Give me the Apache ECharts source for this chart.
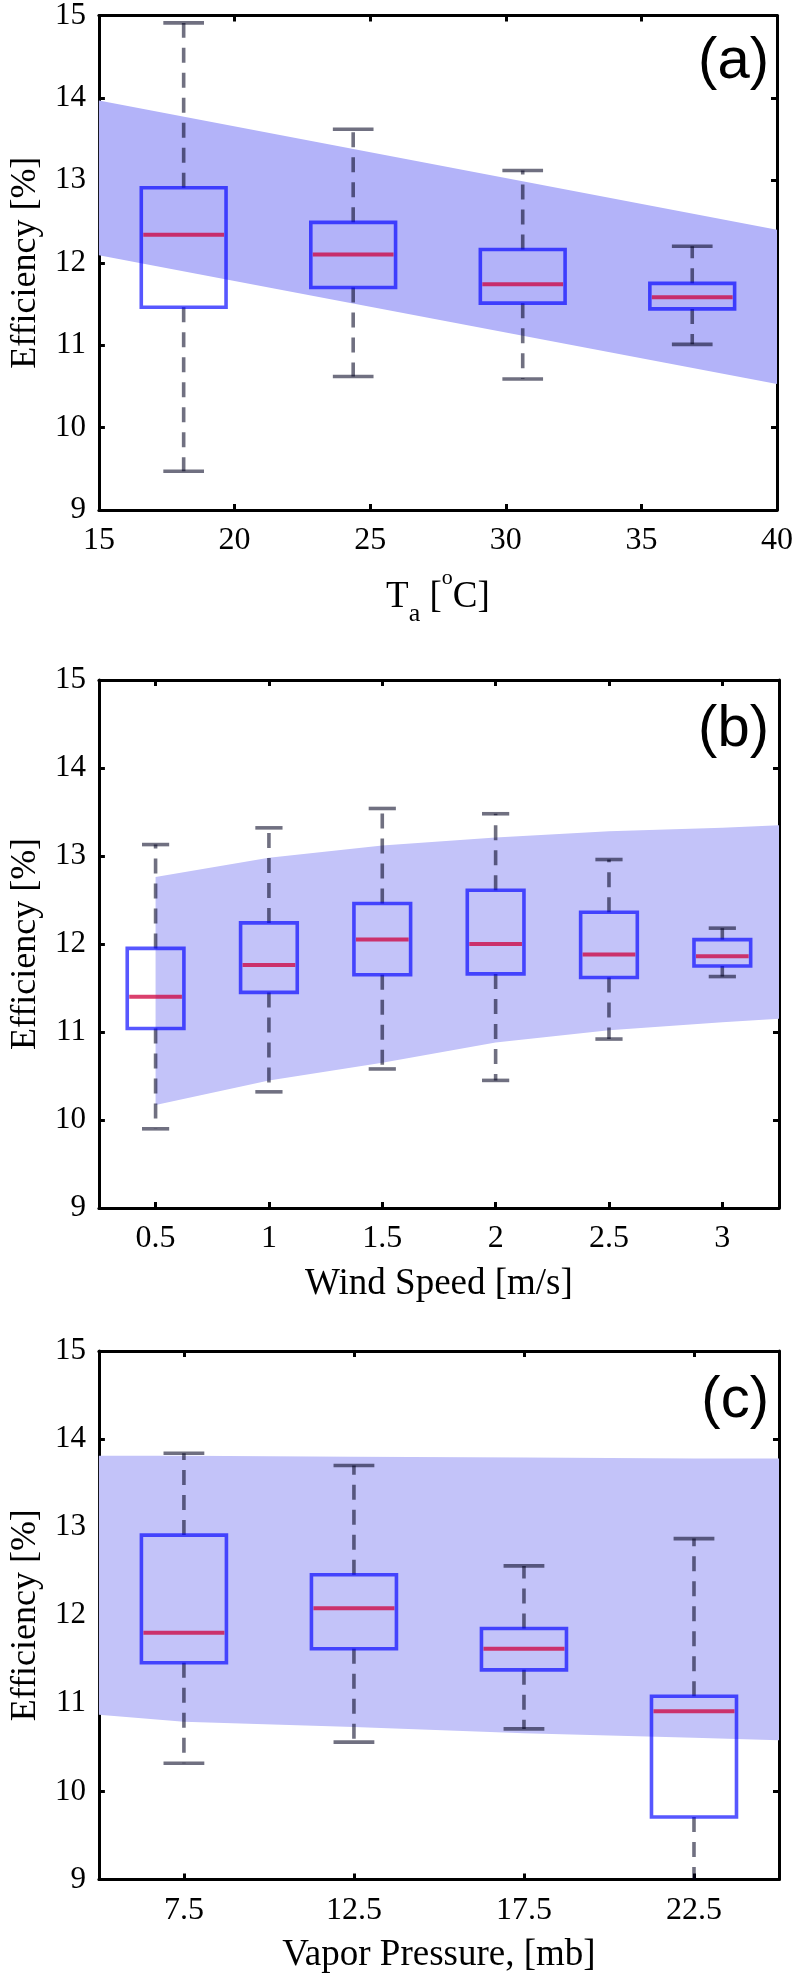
<!DOCTYPE html>
<html>
<head>
<meta charset="utf-8">
<script src="https://cdn.jsdelivr.net/npm/echarts@6/dist/echarts.min.js"></script>
<style>
html,body{margin:0;padding:0;background:#fff;}
#chart{width:796px;height:1975px;}
</style>
</head>
<body>
<div id="chart"></div>
<script>
// ---------- Panel (a): ambient temperature ----------
const taPositions = [18.125, 24.375, 30.625, 36.875];
const taMin    = [9.47, 10.62, 10.59, 11.01];
const taQ1     = [11.46, 11.70, 11.51, 11.44];
const taMedian = [12.34, 12.10, 11.74, 11.58];
const taQ3     = [12.91, 12.49, 12.16, 11.75];
const taMax    = [14.91, 13.62, 13.12, 12.20];
const taBandX     = [15, 40];
const taBandLower = [12.09, 10.53];
const taBandUpper = [13.97, 12.40];
const taTicks = [15, 20, 25, 30, 35, 40];

// ---------- Panel (b): wind speed ----------
const wsPositions = [0.5, 1, 1.5, 2, 2.5, 3];
const wsMin    = [9.90, 10.32, 10.58, 10.45, 10.92, 11.63];
const wsQ1     = [11.04, 11.45, 11.65, 11.66, 11.62, 11.75];
const wsMedian = [11.40, 11.76, 12.05, 12.00, 11.88, 11.86];
const wsQ3     = [11.95, 12.24, 12.46, 12.61, 12.36, 12.05];
const wsMax    = [13.13, 13.32, 13.54, 13.48, 12.96, 12.18];
const wsBandX     = [0.5, 1, 1.5, 2, 2.5, 3, 3.25];
const wsBandLower = [10.17, 10.45, 10.65, 10.88, 11.02, 11.11, 11.15];
const wsBandUpper = [12.76, 12.98, 13.12, 13.21, 13.28, 13.32, 13.35];
const wsTicks = [0.5, 1, 1.5, 2, 2.5, 3];

// ---------- Panel (c): vapor pressure ----------
const vpPositions = [7.5, 12.5, 17.5, 22.5];
const vpMin    = [10.32, 10.56, 10.71, 8.6];
const vpQ1     = [11.46, 11.62, 11.38, 9.71];
const vpMedian = [11.80, 12.08, 11.62, 10.91];
const vpQ3     = [12.91, 12.46, 11.85, 11.08];
const vpMax    = [13.84, 13.70, 12.56, 12.87];
const vpBandX     = [5, 7.5, 12.5, 17.5, 22.5, 25];
const vpBandLower = [10.87, 10.79, 10.73, 10.66, 10.61, 10.58];
const vpBandUpper = [13.81, 13.81, 13.80, 13.79, 13.78, 13.78];
const vpTicks = [7.5, 12.5, 17.5, 22.5];

// ---------- styling ----------
const SERIF = '"Liberation Serif", "Times New Roman", serif';
const SANS = '"Liberation Sans", Arial, sans-serif';
const BOX_COLOR = 'rgba(0,0,255,0.66)';
const WHISKER_COLOR = 'rgba(0,0,30,0.56)';
const MEDIAN_COLOR = 'rgba(205,0,60,0.75)';
const Y_MIN = 9, Y_MAX = 15;

const panels = [
  {pos: taPositions, mn: taMin, q1: taQ1, md: taMedian, q3: taQ3, mx: taMax,
   bx: taBandX, bl: taBandLower, bu: taBandUpper, ticks: taTicks,
   xmin: 15, xmax: 40, boxW: 3.125, bandColor: '#b3b3f9',
   top: 12, height: 498, label: '(a)',
   xname: '{m|T}{sub|a}{m| [}{sup|o}{m|C]}'},
  {pos: wsPositions, mn: wsMin, q1: wsQ1, md: wsMedian, q3: wsQ3, mx: wsMax,
   bx: wsBandX, bl: wsBandLower, bu: wsBandUpper, ticks: wsTicks,
   xmin: 0.25, xmax: 3.25, boxW: 0.25, bandColor: '#c3c3f9',
   top: 680, height: 528, label: '(b)',
   xname: '{m|Wind Speed [m/s]}'},
  {pos: vpPositions, mn: vpMin, q1: vpQ1, md: vpMedian, q3: vpQ3, mx: vpMax,
   bx: vpBandX, bl: vpBandLower, bu: vpBandUpper, ticks: vpTicks,
   xmin: 5, xmax: 25, boxW: 2.5, bandColor: '#c3c3f9',
   top: 1351, height: 529, label: '(c)',
   xname: '{m|Vapor Pressure, [mb]}'}
];

function makeBoxRender(boxW) {
  return function (params, api) {
    const x = api.value(0);
    const lo = api.value(1), q1 = api.value(2), md = api.value(3), q3 = api.value(4), hi = api.value(5);
    const half = api.size([boxW, 0])[0] / 2;
    const capHalf = half * 0.48;
    const cx = api.coord([x, md])[0];
    const Y = v => api.coord([x, Math.min(Math.max(v, Y_MIN), Y_MAX)])[1];
    const whisk = {stroke: WHISKER_COLOR, lineWidth: 3.6, lineDash: [15, 10], fill: null};
    const cap = {stroke: WHISKER_COLOR, lineWidth: 3.6, fill: null};
    const children = [
      {type: 'line', shape: {x1: cx, y1: Y(q3), x2: cx, y2: Y(hi)}, style: whisk},
      {type: 'line', shape: {x1: cx, y1: Y(q1), x2: cx, y2: Y(lo)}, style: whisk}
    ];
    if (hi <= Y_MAX) children.push({type: 'line', shape: {x1: cx - capHalf, y1: Y(hi), x2: cx + capHalf, y2: Y(hi)}, style: cap});
    if (lo >= Y_MIN) children.push({type: 'line', shape: {x1: cx - capHalf, y1: Y(lo), x2: cx + capHalf, y2: Y(lo)}, style: cap});
    children.push({type: 'rect', shape: {x: cx - half, y: Y(q3), width: 2 * half, height: Y(q1) - Y(q3)},
                   style: {fill: null, stroke: BOX_COLOR, lineWidth: 3.6}});
    children.push({type: 'line', shape: {x1: cx - half + 2, y1: Y(md), x2: cx + half - 2, y2: Y(md)},
                   style: {stroke: MEDIAN_COLOR, lineWidth: 4, fill: null}});
    return {type: 'group', children};
  };
}

// band polygon: drawn once (on the first item) through all points of the band
function makeBandRender(color, bandData) {
  return function (params, api) {
    if (params.dataIndex !== 0) return null;
    const upper = bandData.map(d => api.coord([d[0], d[2]]));
    const lower = bandData.map(d => api.coord([d[0], d[1]])).reverse();
    return {type: 'polygon', shape: {points: upper.concat(lower)},
            style: {fill: color, stroke: null}};
  };
}

const axisLineStyle = {show: true, onZero: false, lineStyle: {color: '#000', width: 3}};
const tickStyle = {show: true, inside: true, length: 6, lineStyle: {color: '#000', width: 3}};

const grid = [], xAxis = [], yAxis = [], series = [], title = [];
panels.forEach((p, i) => {
  grid.push({left: 86, width: 693, top: p.top, height: p.height, containLabel: false});
  xAxis.push({
    gridIndex: i, type: 'value', position: 'bottom', min: p.xmin, max: p.xmax,
    axisLine: axisLineStyle, splitLine: {show: false},
    axisTick: Object.assign({customValues: p.ticks}, tickStyle),
    axisLabel: {customValues: p.ticks, margin: 15, fontFamily: SERIF, fontSize: 32, color: '#000'},
    name: p.xname, nameLocation: 'middle', nameGap: i === 0 ? 57 : 56,
    nameTextStyle: {
      rich: {
        m: {fontFamily: SERIF, fontSize: 37, color: '#000', lineHeight: i === 0 ? 60 : 40, verticalAlign: 'middle'},
        sub: {fontFamily: SERIF, fontSize: 26, color: '#000', lineHeight: 60, verticalAlign: 'bottom'},
        sup: {fontFamily: SERIF, fontSize: 22, color: '#000', lineHeight: 60, verticalAlign: 'top'}
      }
    }
  });
  xAxis.push({
    gridIndex: i, type: 'value', position: 'top', min: p.xmin, max: p.xmax,
    axisLine: axisLineStyle, splitLine: {show: false},
    axisTick: Object.assign({customValues: p.ticks}, tickStyle),
    axisLabel: {show: false}
  });
  yAxis.push({
    gridIndex: i, type: 'value', position: 'left', min: Y_MIN, max: Y_MAX, interval: 1,
    axisLine: axisLineStyle, splitLine: {show: false}, axisTick: tickStyle,
    axisLabel: {margin: 13, fontFamily: SERIF, fontSize: 31, color: '#000'},
    name: 'Efficiency [%]', nameLocation: 'middle', nameGap: 50, nameRotate: 90,
    nameTextStyle: {fontFamily: SERIF, fontSize: 36, color: '#000'}
  });
  yAxis.push({
    gridIndex: i, type: 'value', position: 'right', min: Y_MIN, max: Y_MAX, interval: 1,
    axisLine: axisLineStyle, splitLine: {show: false}, axisTick: tickStyle,
    axisLabel: {show: false}
  });

  const xi = 2 * i, yi = 2 * i;
  const bandData = p.bx.map((x, k) => [x, p.bl[k], p.bu[k]]);
  series.push({
    type: 'custom', xAxisIndex: xi, yAxisIndex: yi, data: bandData,
    encode: {x: 0, y: [1, 2]},
    renderItem: makeBandRender(p.bandColor, bandData),
    z: 1, silent: true, animation: false
  });
  const boxData = p.pos.map((x, k) => [x, p.mn[k], p.q1[k], p.md[k], p.q3[k], p.mx[k]]);
  series.push({
    type: 'custom', xAxisIndex: xi, yAxisIndex: yi, data: boxData,
    encode: {x: 0, y: [1, 2, 3, 4, 5]},
    renderItem: makeBoxRender(p.boxW), z: 5, animation: false, silent: true
  });

  title.push({
    text: p.label, right: 27, top: p.top + 21, padding: 0,
    textStyle: {fontFamily: SANS, fontWeight: 'normal', fontSize: 58, color: '#000'}
  });
});

const chart = echarts.init(document.getElementById('chart'), null, {renderer: 'canvas'});
chart.setOption({
  backgroundColor: '#fff',
  animation: false,
  title, grid, xAxis, yAxis, series
});
</script>
</body>
</html>
